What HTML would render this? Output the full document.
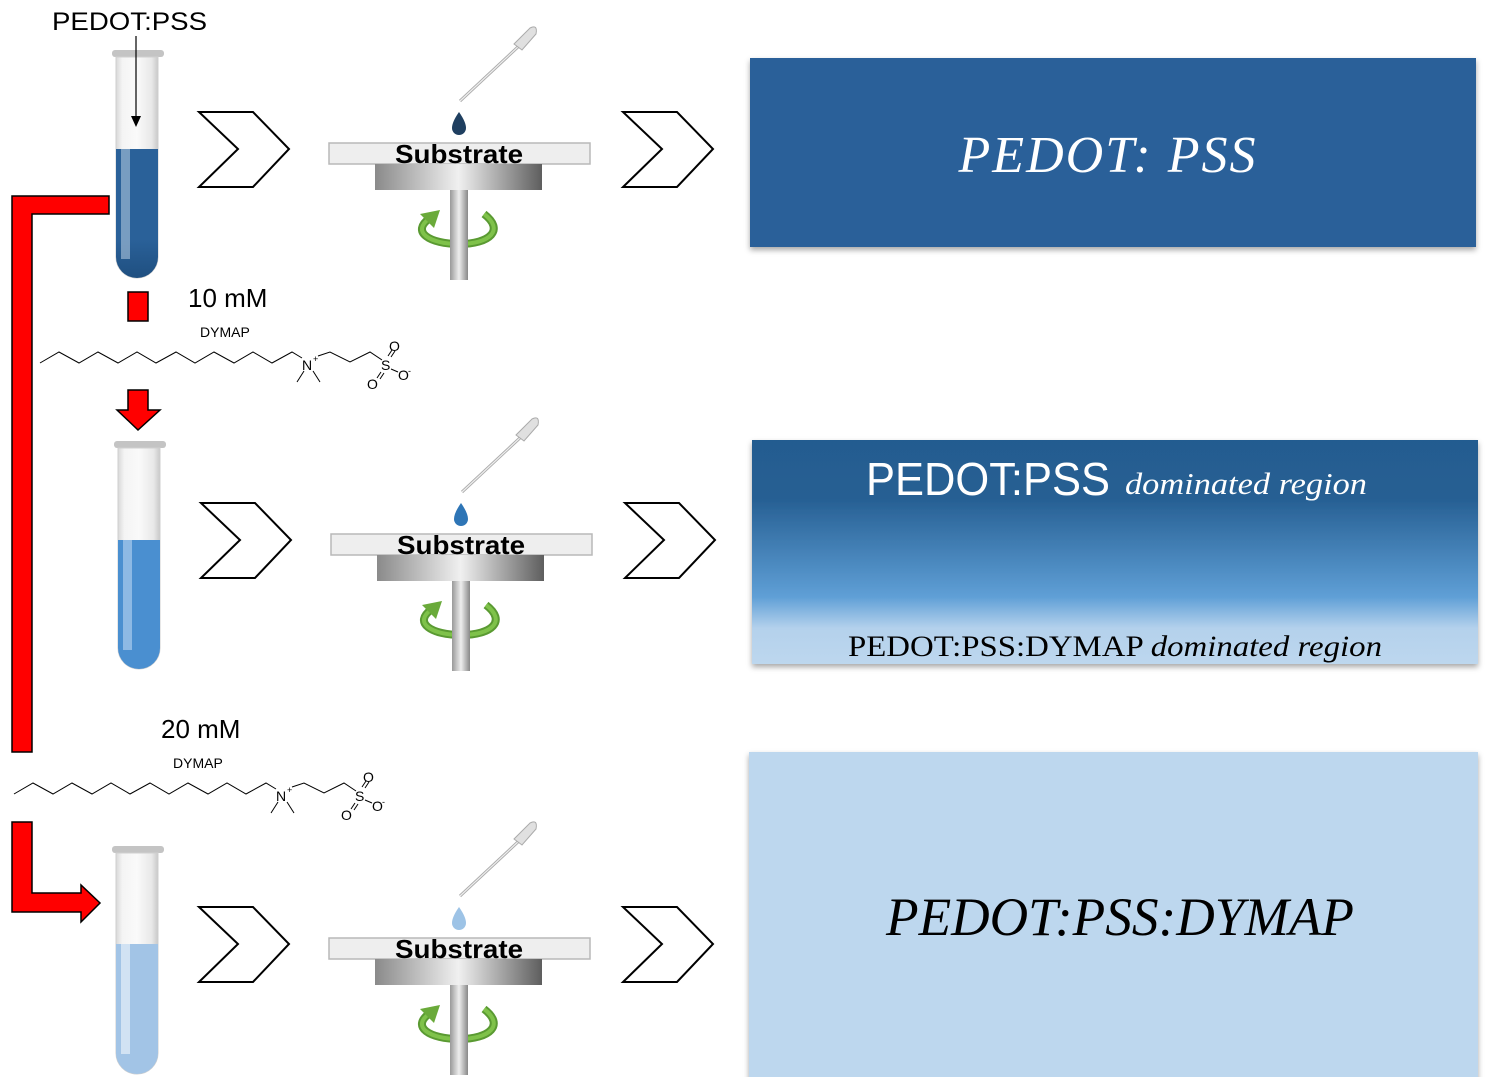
<!DOCTYPE html>
<html><head><meta charset="utf-8"><style>
html,body{margin:0;padding:0;background:#fff;width:1489px;height:1077px;overflow:hidden}
svg{display:block}
</style></head><body>
<svg width="1489" height="1077" viewBox="0 0 1489 1077" xmlns="http://www.w3.org/2000/svg" font-family="Liberation Sans, sans-serif">
<defs>
<linearGradient id="glass" x1="0" x2="1" y1="0" y2="0">
<stop offset="0" stop-color="#d8d8d8"/><stop offset="0.15" stop-color="#f4f4f4"/><stop offset="0.5" stop-color="#fafafa"/><stop offset="0.85" stop-color="#e8e8e8"/><stop offset="1" stop-color="#c8c8c8"/></linearGradient>
<linearGradient id="chuck" x1="0" x2="1"><stop offset="0" stop-color="#8a8a8a"/><stop offset="0.5" stop-color="#f0f0f0"/><stop offset="1" stop-color="#5e5e5e"/></linearGradient>
<linearGradient id="shaft" x1="0" x2="1"><stop offset="0" stop-color="#999"/><stop offset="0.5" stop-color="#eee"/><stop offset="1" stop-color="#888"/></linearGradient>
<linearGradient id="b2" x1="0" x2="0" y1="0" y2="1">
<stop offset="0" stop-color="#245c90"/><stop offset="0.26" stop-color="#265f93"/><stop offset="0.7" stop-color="#5f9fd6"/><stop offset="0.84" stop-color="#b4d1ec"/><stop offset="1" stop-color="#bdd7ee"/></linearGradient>
<linearGradient id="t1" x1="0" x2="0" y1="0" y2="1"><stop offset="0" stop-color="#2a6199"/><stop offset="0.7" stop-color="#2a6199"/><stop offset="1" stop-color="#1f4f80"/></linearGradient>
<filter id="sh" x="-5%" y="-5%" width="110%" height="115%"><feDropShadow dx="0" dy="3" stdDeviation="3" flood-color="#000" flood-opacity="0.35"/></filter>
<g id="tube">
<rect x="-4" y="-5" width="52" height="7" rx="3" fill="#c4c4c4"/>
<path d="M0,2 H42 V202 A21,21 0 0 1 0,202 Z" fill="url(#glass)" stroke="#cfcfcf" stroke-width="1"/>
</g>
<g id="spin">
<rect x="450" y="190" width="18" height="90" fill="url(#shaft)"/>
<rect x="329" y="143" width="261" height="21" fill="#eeeeee" stroke="#b8b8b8" stroke-width="1.5"/>
<rect x="375" y="164" width="167" height="26" fill="url(#chuck)"/>
<text x="459" y="163" text-anchor="middle" font-weight="bold" font-size="26" textLength="128" lengthAdjust="spacingAndGlyphs">Substrate</text>
<path d="M430,218 C410,232 430,244 459,244 C490,244 505,230 484,214" fill="none" stroke="#5a9a32" stroke-width="8"/>
<path d="M430,218 C410,232 430,244 459,244 C490,244 505,230 484,214" fill="none" stroke="#7fc24a" stroke-width="4"/>
<path d="M420,214 L440,210 L434,228 Z" fill="#6aaa3a"/>
<rect x="450" y="228" width="18" height="52" fill="url(#shaft)"/>
<line x1="460" y1="101" x2="520" y2="45" stroke="#aaa" stroke-width="3"/>
<line x1="460" y1="101" x2="520" y2="45" stroke="#eee" stroke-width="1.2"/>
<path d="M514,44 L530,28 Q538,24 536,34 L522,50 Z" fill="#e0e0e0" stroke="#aaa"/>
</g>
<polygon id="chev" points="200,112 254,112 290,149 254,187 200,187 239,149" fill="#fff" stroke="#000" stroke-width="2"/>
<g id="mol" fill="none" stroke="#000" stroke-width="1">
<polyline points="40,363 59,352 79,363 98,352 118,363 137,352 156,363 176,352 195,363 214,352 234,363 253,352 272,363 292,352 302,358"/>
<polyline points="318,356 330,352 350,362 370,352 382,360"/>
<line x1="304" y1="371" x2="297" y2="382"/><line x1="313" y1="371" x2="320" y2="382"/>
<line x1="388" y1="356" x2="392" y2="350"/><line x1="391" y1="357" x2="395" y2="351"/>
<line x1="381" y1="372" x2="377" y2="378"/><line x1="384" y1="373" x2="380" y2="379"/>
<line x1="391" y1="369" x2="398" y2="372"/>
</g>
</defs>

<!-- boxes -->
<rect x="750" y="58" width="726" height="189" fill="#2a6199" filter="url(#sh)"/>
<text x="1107" y="172" text-anchor="middle" fill="#fff" font-family="Liberation Serif, serif" font-style="italic" font-size="52" textLength="297" lengthAdjust="spacing">PEDOT: PSS</text>
<rect x="752" y="440" width="726" height="224" fill="url(#b2)" filter="url(#sh)"/>
<text x="866" y="495" fill="#fff" font-size="46" textLength="244" lengthAdjust="spacingAndGlyphs">PEDOT:PSS</text>
<text x="1125" y="494" fill="#fff" font-family="Liberation Serif, serif" font-style="italic" font-size="31" textLength="242" lengthAdjust="spacingAndGlyphs">dominated region</text>
<text x="848" y="656" fill="#000" font-family="Liberation Serif, serif" font-size="30" textLength="534" lengthAdjust="spacingAndGlyphs">PEDOT:PSS:DYMAP <tspan font-style="italic">dominated region</tspan></text>
<rect x="749" y="752" width="729" height="330" fill="#bdd7ee" filter="url(#sh)"/>
<text x="1120" y="935" text-anchor="middle" fill="#000" font-family="Liberation Serif, serif" font-style="italic" font-size="54" textLength="468" lengthAdjust="spacingAndGlyphs">PEDOT:PSS:DYMAP</text>

<!-- red connector -->
<path d="M12,196 H109 V214 H32 V752 H12 Z" fill="#ff0000" stroke="#000" stroke-width="1.5"/>
<rect x="128" y="292" width="20" height="29" fill="#ff0000" stroke="#000" stroke-width="1.5"/>
<path d="M128,390 H148 V410 H160 L138,430 L117,410 H128 Z" fill="#ff0000" stroke="#000" stroke-width="1.5"/>
<path d="M12,822 H32 V893 H81 V885 L100,903 L81,922 V912 H12 Z" fill="#ff0000" stroke="#000" stroke-width="1.5"/>

<!-- tube 1 -->
<g transform="translate(116,55)">
<use href="#tube"/>
<path d="M0,94 H42 V202 A21,21 0 0 1 0,202 Z" fill="url(#t1)"/>
<rect x="5" y="94" width="9" height="110" fill="#aec5dc" opacity="0.6"/>
</g>
<line x1="136" y1="36" x2="136" y2="118" stroke="#000" stroke-width="1.2"/>
<path d="M131,116 L141,116 L136,127 Z"/>
<text x="52" y="30" font-size="25" textLength="155" lengthAdjust="spacingAndGlyphs">PEDOT:PSS</text>

<!-- tube 2 -->
<g transform="translate(118,446)">
<use href="#tube"/>
<path d="M0,94 H42 V202 A21,21 0 0 1 0,202 Z" fill="#4a8fd0"/>
<rect x="5" y="94" width="9" height="110" fill="#9ec3e8" opacity="0.8"/>
</g>
<!-- tube 3 -->
<g transform="translate(116,851)">
<use href="#tube"/>
<path d="M0,93 H42 V202 A21,21 0 0 1 0,202 Z" fill="#a2c4e6"/>
<rect x="5" y="93" width="9" height="110" fill="#d6e5f4" opacity="0.9"/>
</g>

<!-- chevrons -->
<use href="#chev" x="-1"/>
<use href="#chev" x="423"/>
<use href="#chev" x="1" y="391"/>
<use href="#chev" x="425" y="391"/>
<use href="#chev" x="-1" y="795"/>
<use href="#chev" x="423" y="795"/>

<!-- spin coaters -->
<use href="#spin"/>
<use href="#spin" x="2" y="391"/>
<use href="#spin" y="795"/>
<path d="M459,112 Q452,122 452,128 A7,7 0 0 0 466,128 Q466,122 459,112 Z" fill="#1f3f60"/>
<path d="M461,503 Q454,513 454,519 A7,7 0 0 0 468,519 Q468,513 461,503 Z" fill="#2e75b6"/>
<path d="M459,907 Q452,917 452,923 A7,7 0 0 0 466,923 Q466,917 459,907 Z" fill="#9dc3e6"/>

<!-- molecules -->
<text x="188" y="307" font-size="26">10 mM</text>
<text x="200" y="337" font-size="14">DYMAP</text>
<use href="#mol"/>
<g font-size="14"><text x="302" y="370">N</text><text x="313" y="362" font-size="9">+</text>
<text x="381" y="370">S</text><text x="389" y="351">O</text><text x="367" y="389">O</text><text x="398" y="380">O</text><text x="408" y="374" font-size="9">-</text></g>

<text x="161" y="738" font-size="26">20 mM</text>
<text x="173" y="768" font-size="14">DYMAP</text>
<use href="#mol" x="-26" y="431"/>
<g font-size="14" transform="translate(-26,431)"><text x="302" y="370">N</text><text x="313" y="362" font-size="9">+</text>
<text x="381" y="370">S</text><text x="389" y="351">O</text><text x="367" y="389">O</text><text x="398" y="380">O</text><text x="408" y="374" font-size="9">-</text></g>
</svg>
</body></html>
